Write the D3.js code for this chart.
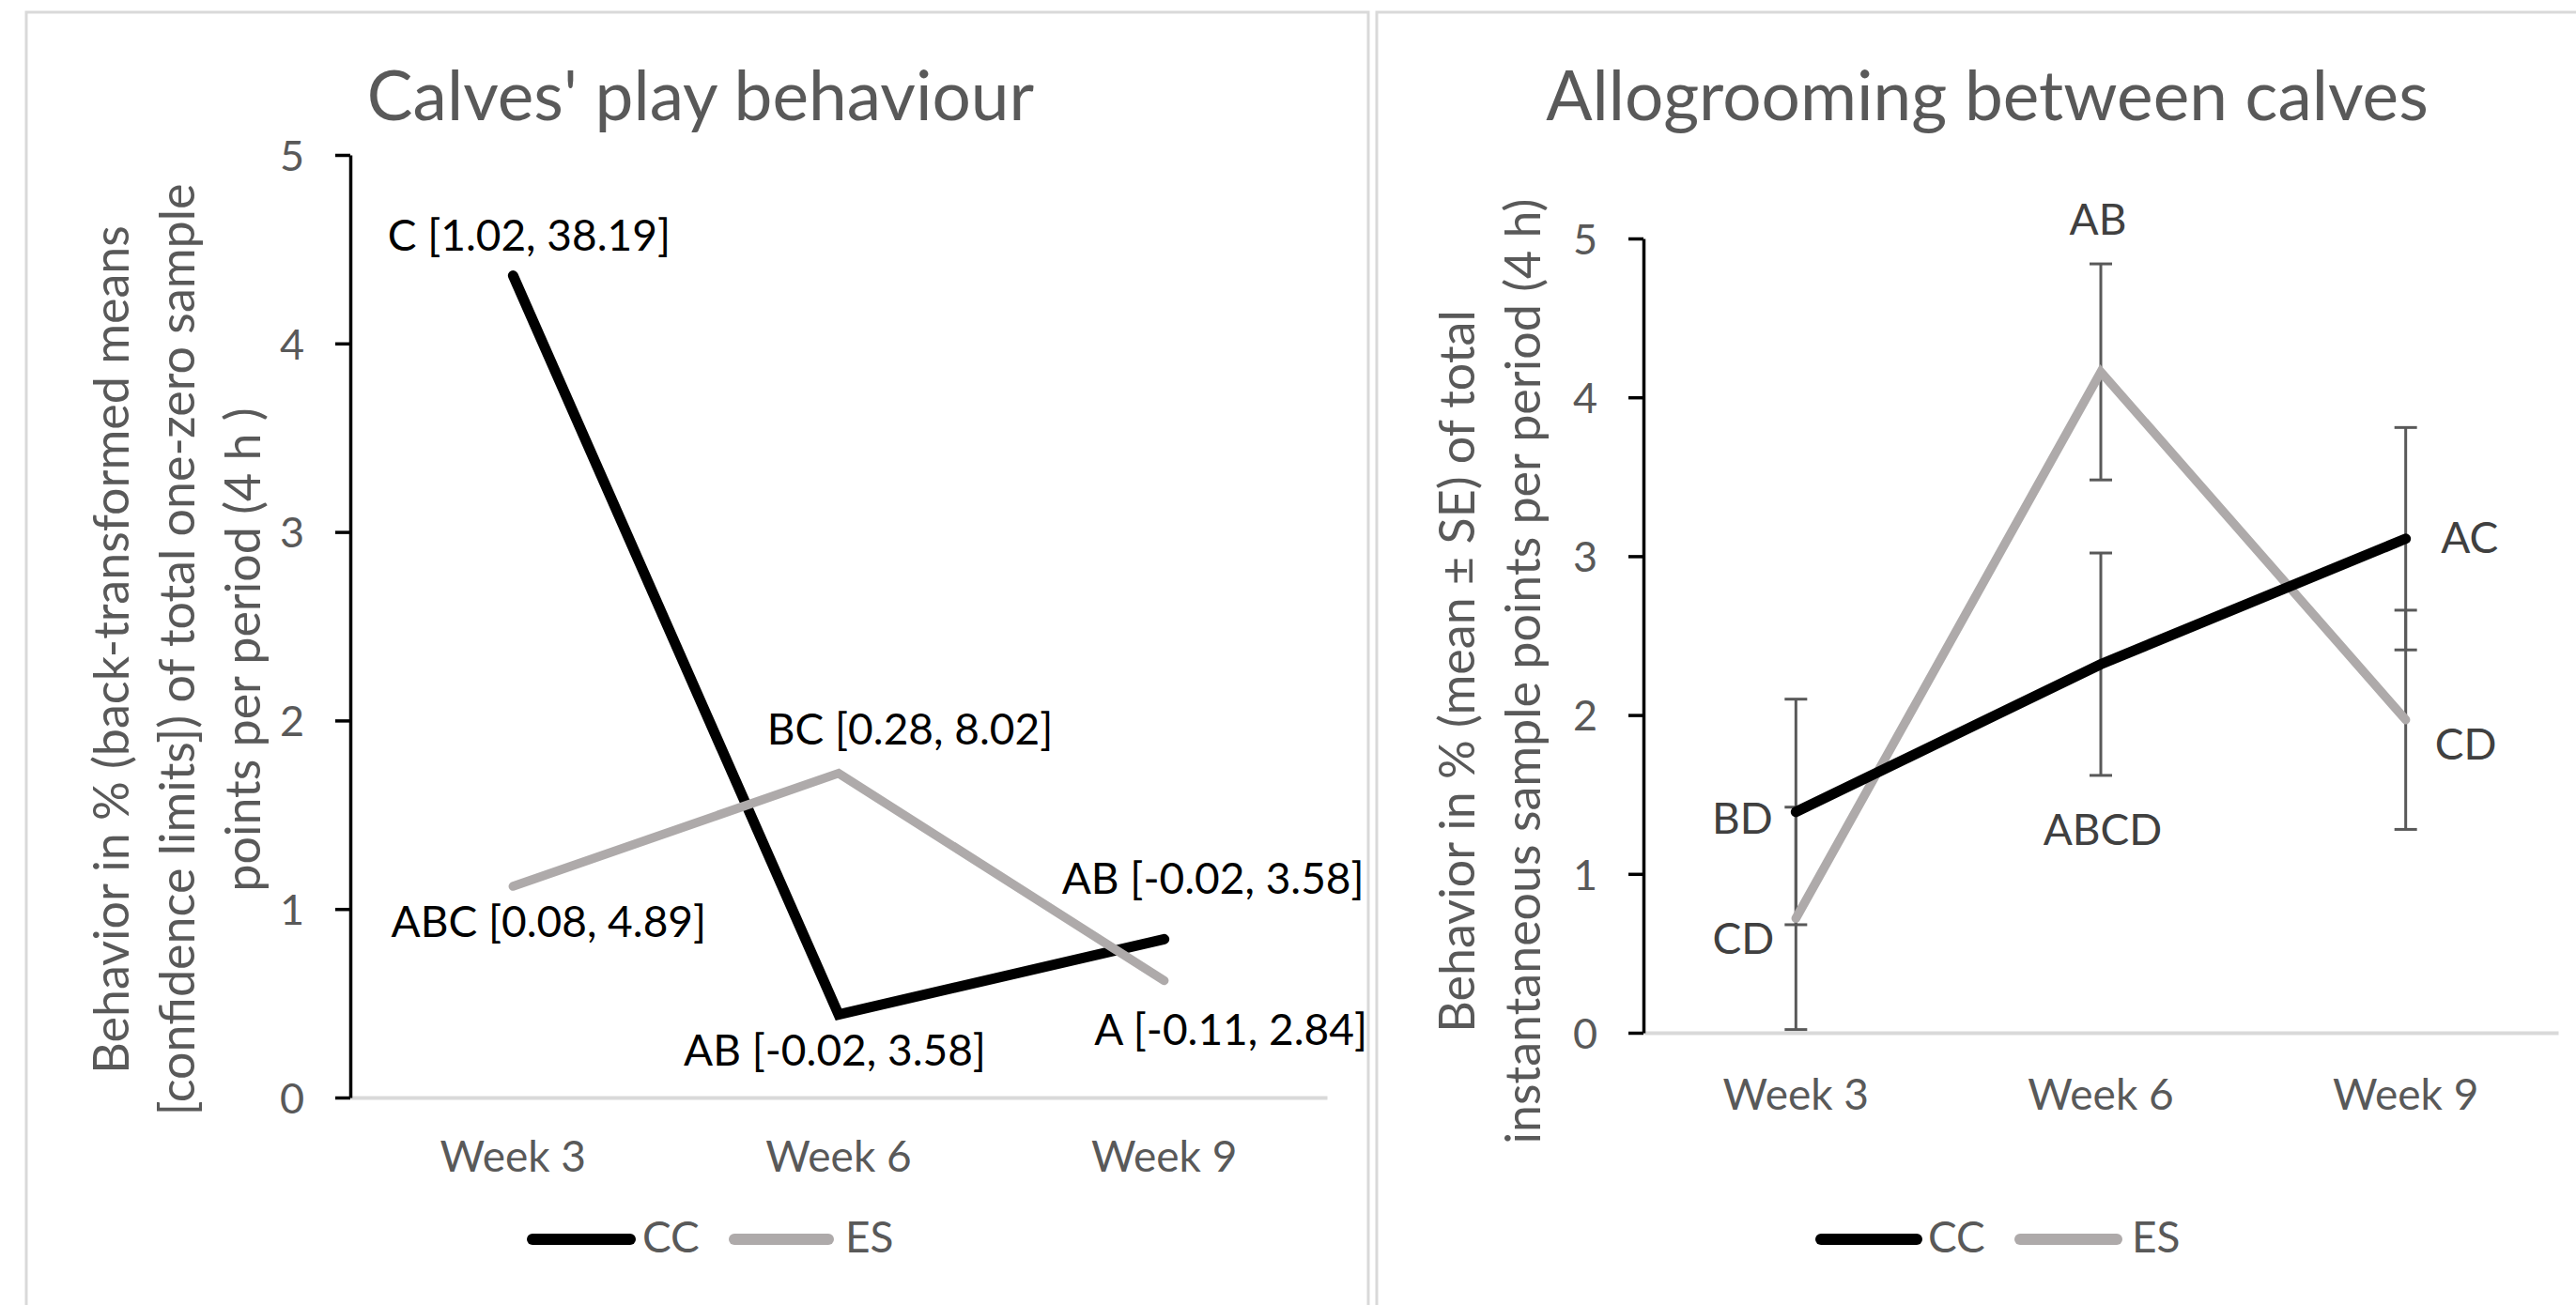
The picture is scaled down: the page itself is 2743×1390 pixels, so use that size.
<!DOCTYPE html>
<html>
<head>
<meta charset="utf-8">
<script src="https://cdn.jsdelivr.net/npm/d3@7"></script>
<style>
  body { margin: 0; background: #fff; }
  svg { display: block; font-family: Lato, "Open Sans", sans-serif; }
</style>
</head>
<body>
<div id="chart"></div>
<script>
// data
const weeks = ["Week 3", "Week 6", "Week 9"];
const yTicks = [0, 1, 2, 3, 4, 5];
const seriesNames = ["CC", "ES"];

const playCC = [4.36, 0.44, 0.84];
const playES = [1.12, 1.72, 0.62];
const playLabelsCC = ["C [1.02, 38.19]", "AB [-0.02, 3.58]", "AB [-0.02, 3.58]"];
const playLabelsES = ["ABC [0.08, 4.89]", "BC [0.28, 8.02]", "A [-0.11, 2.84]"];

const groomCC = [1.39, 2.32, 3.11];
const groomES = [0.72, 4.16, 1.97];
const groomSeCC = [0.71, 0.70, 0.70];
const groomSeES = [0.70, 0.68, 0.69];
const groomLabelsCC = ["BD", "ABCD", "AC"];
const groomLabelsES = ["CD", "AB", "CD"];

const W = 2743, H = 1390;
const colors = {CC: "#000000", ES: "#aeaaaa"};
const widths = {CC: 11, ES: 9.5};
const grey = "#595959";

const svg = d3.select("#chart").append("svg")
    .attr("width", W)
    .attr("height", H);

// panel frames
svg.append("rect").attr("x", 28).attr("y", 13).attr("width", 1429).attr("height", 1420)
    .attr("fill", "none").attr("stroke", "#d9d9d9").attr("stroke-width", 3);
svg.append("rect").attr("x", 1466).attr("y", 13).attr("width", 1320).attr("height", 1420)
    .attr("fill", "none").attr("stroke", "#d9d9d9").attr("stroke-width", 3);

function drawPanel(cfg) {
    const g = svg.append("g");

    const x = d3.scaleBand().domain(weeks).range(cfg.xRange);
    const cx = d => x(d) + x.bandwidth() / 2;
    const y = d3.scaleLinear().domain([0, 5]).range(cfg.yRange);

    // title
    g.append("text")
        .attr("x", cfg.titleX).attr("y", 128)
        .attr("text-anchor", "middle")
        .attr("font-size", 73)
        .attr("fill", grey)
        .text(cfg.title);

    // y axis title
    const yt = g.append("text")
        .attr("transform", `translate(0,${cfg.yTitleY}) rotate(-90)`)
        .attr("text-anchor", "middle")
        .attr("font-size", 52)
        .attr("fill", grey);
    cfg.yTitle.forEach((line, i) => {
        yt.append("tspan").attr("x", 0).attr("y", cfg.yTitleX[i]).text(line);
    });

    // x axis (grey baseline, no ticks)
    const xAxis = g.append("g")
        .attr("transform", `translate(0,${cfg.yRange[0]})`)
        .call(d3.axisBottom(x).tickSize(0).tickSizeOuter(0));
    xAxis.select(".domain").attr("stroke", "#d9d9d9").attr("stroke-width", 4);
    xAxis.selectAll("text")
        .attr("y", cfg.catOffset).attr("dy", 0)
        .attr("font-size", 46)
        .attr("font-family", "Lato")
        .attr("fill", grey);

    // y axis
    const yAxis = g.append("g")
        .attr("transform", `translate(${cfg.xRange[0]},0)`)
        .call(d3.axisLeft(y).tickValues(yTicks).tickFormat(d3.format("d"))
            .tickSize(16).tickSizeOuter(0).tickPadding(33));
    yAxis.select(".domain").attr("stroke", "#000").attr("stroke-width", 3.5);
    yAxis.selectAll(".tick line").attr("stroke", "#000").attr("stroke-width", 3.5);
    yAxis.selectAll("text")
        .attr("dy", "0.36em")
        .attr("font-size", 45)
        .attr("font-family", "Lato")
        .attr("fill", grey);

    // error bars
    if (cfg.se) {
        seriesNames.forEach(name => {
            const vals = cfg.values[name], se = cfg.se[name];
            const eb = g.append("g").attr("stroke", grey).attr("stroke-width", 3);
            weeks.forEach((w, i) => {
                eb.append("line")
                    .attr("x1", cx(w)).attr("x2", cx(w))
                    .attr("y1", y(vals[i] - se[i])).attr("y2", y(vals[i] + se[i]));
                [vals[i] - se[i], vals[i] + se[i]].forEach(v => {
                    eb.append("line")
                        .attr("x1", cx(w) - 12).attr("x2", cx(w) + 12)
                        .attr("y1", y(v)).attr("y2", y(v));
                });
            });
        });
    }

    // series lines
    const line = d3.line().x((d, i) => cx(weeks[i])).y(d => y(d));
    cfg.order.forEach(name => {
        g.append("path")
            .datum(cfg.values[name])
            .attr("d", line)
            .attr("fill", "none")
            .attr("stroke", colors[name])
            .attr("stroke-width", widths[name])
            .attr("stroke-linecap", "round")
            .attr("stroke-linejoin", "miter");
    });

    // data labels
    seriesNames.forEach(name => {
        const vals = cfg.values[name];
        g.append("g").selectAll("text")
            .data(cfg.labels[name])
            .join("text")
            .attr("x", (d, i) => cx(weeks[i]) + cfg.labelOffsets[name][i][0])
            .attr("y", (d, i) => y(vals[i]) + cfg.labelOffsets[name][i][1])
            .attr("text-anchor", "middle")
            .attr("font-size", 46)
            .attr("fill", cfg.labelColor)
            .text(d => d);
    });

    // legend
    const lg = g.append("g");
    seriesNames.forEach((name, i) => {
        const [x0, x1, tx] = cfg.legend[i];
        lg.append("line")
            .attr("x1", x0).attr("x2", x1).attr("y1", 1320).attr("y2", 1320)
            .attr("stroke", colors[name]).attr("stroke-width", 12)
            .attr("stroke-linecap", "round");
        lg.append("text")
            .attr("x", tx).attr("y", 1334)
            .attr("font-size", 46)
            .attr("fill", grey)
            .text(name);
    });
}

drawPanel({
    title: "Calves' play behaviour",
    titleX: 746,
    xRange: [373, 1413],
    yRange: [1169, 165],
    catOffset: 79,
    yTitle: ["Behavior in % (back-transformed means",
             "[confidence limits]) of total one-zero sample",
             "points per period (4 h )"],
    yTitleX: [137, 207, 277],
    yTitleY: 692,
    values: {CC: playCC, ES: playES},
    order: ["CC", "ES"],
    labels: {CC: playLabelsCC, ES: playLabelsES},
    labelColor: "#000",
    labelOffsets: {
        CC: [[17, -27], [-4, 54], [52, -48]],
        ES: [[38, 54], [76, -31], [71, 68]]
    },
    legend: [[567, 671, 684], [782, 882, 900]]
});

drawPanel({
    title: "Allogrooming between calves",
    titleX: 2116,
    xRange: [1750, 2724],
    yRange: [1100, 254],
    catOffset: 82,
    yTitle: ["Behavior in % (mean \u00b1 SE) of total",
             "instantaneous sample points per period (4 h)"],
    yTitleX: [1570, 1640],
    yTitleY: 715,
    values: {CC: groomCC, ES: groomES},
    order: ["ES", "CC"],
    se: {CC: groomSeCC, ES: groomSeES},
    labels: {CC: groomLabelsCC, ES: groomLabelsES},
    labelColor: "#404040",
    labelOffsets: {
        CC: [[-57, 23], [2, 193], [68, 15]],
        ES: [[-56, 38], [-3, -146], [64, 42]]
    },
    legend: [[1939, 2041, 2053], [2151, 2254, 2270]]
});
</script>
</body>
</html>
